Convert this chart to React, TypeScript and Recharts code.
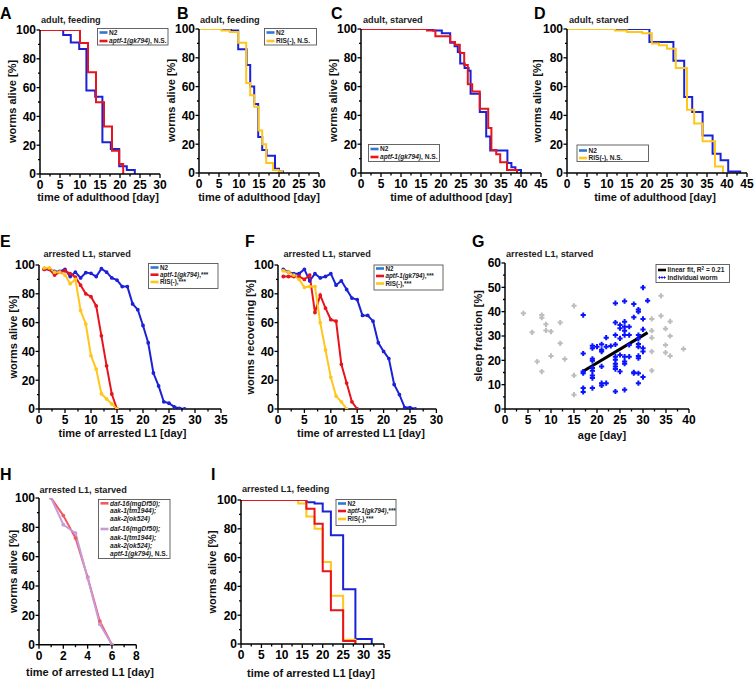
import React from 'react';
import { ComposedChart, Line, Scatter, XAxis, YAxis } from 'recharts';

type Pt = [number, number];

// ---- tick positions ----
const T100 = [0, 10, 20, 30, 40, 50, 60, 70, 80, 90, 100];
const T60 = [0, 5, 10, 15, 20, 25, 30, 35, 40, 45, 50, 55, 60];
const T30 = [0, 2.5, 5, 7.5, 10, 12.5, 15, 17.5, 20, 22.5, 25, 27.5, 30];
const T35 = [...T30, 32.5, 35];
const T40 = [...T35, 37.5, 40];
const T45 = [...T40, 42.5, 45];
const T8 = [0, 1, 2, 3, 4, 5, 6, 7, 8];

// ---- A: adult, feeding ----
const aN2: Pt[] = [[0, 100], [5.8, 96.5], [7.7, 91.4], [9.8, 86.8], [11.6, 57.9], [13.8, 53.7], [15.6, 22], [17.7, 17.4], [19.8, 5.3], [21.7, 2.8], [23.7, 0]];
const aAptf: Pt[] = [[0, 100], [10, 91], [12, 70.6], [14, 49.8], [16, 33], [18, 16.2], [19.8, 7], [20.8, 0]];

// ---- B: adult, feeding ----
const bN2: Pt[] = [[0, 100], [8, 99], [9.8, 86], [11.9, 75], [12.8, 60], [13.8, 48], [14.8, 25], [15.8, 16], [16.9, 12], [19, 3], [20, 1], [21, 0]];
const bRis: Pt[] = [[0, 100], [5.6, 99], [7.7, 98], [9.8, 90.5], [11.8, 62.5], [12.8, 54], [13.8, 46], [14.9, 29.6], [15.8, 20], [16.8, 7], [18.5, 2], [19.9, 1], [20.8, 0]];

// ---- C: adult, starved ----
const cN2: Pt[] = [[0, 100], [18, 99], [20.2, 97], [22.3, 90.5], [23.4, 88], [24.2, 84], [24.8, 76], [25.9, 73], [26.9, 71], [27.4, 55], [29.7, 42.3], [31.3, 25.4], [32.3, 15.7], [36.6, 6.9], [37.6, 4], [38.6, 2], [40, 0]];
const cAptf: Pt[] = [[0, 100], [16.5, 99], [18.6, 95], [22.3, 91], [23.5, 89], [24.7, 83.4], [25.8, 75], [26.7, 61.7], [27.8, 56.6], [29.7, 44.6], [31.8, 31.2], [32.6, 15.9], [33.8, 13], [34.8, 7.5], [36.5, 2], [39, 0]];

// ---- D: adult, starved ----
const dN2: Pt[] = [[0, 100], [20.6, 91], [26.6, 78], [29.3, 52.8], [31.3, 42.4], [33.9, 26], [36.4, 13.4], [38.4, 8.8], [40.3, 1], [43.3, 0]];
const dRis: Pt[] = [[0, 100], [12, 99], [15, 98], [18.8, 97], [21.2, 90], [23, 88.7], [25, 86.3], [27.2, 73], [30, 44], [31.8, 34.3], [33.9, 22], [37, 4.6], [39, 0]];

// ---- E: arrested L1, starved (survival) ----
const eN2: Pt[] = [[1, 97], [2, 97], [3, 95.5], [4, 95.5], [5, 97], [6, 92], [7, 95], [8, 91], [9, 94.7], [10, 94.2], [11, 92], [12, 97.5], [13, 95], [14, 91], [15, 89.5], [16, 85], [17, 85], [18, 73], [19, 69], [20, 58], [21, 46], [22, 25], [23, 16], [24, 5], [25, 4], [26, 1.5], [27, 0.5], [28, 0]];
const eAptf: Pt[] = [[1, 97], [2, 97], [3, 93], [4, 95], [5, 96], [6, 94], [7, 91.5], [8, 86], [9, 80], [10, 78], [11, 71.6], [12, 50.8], [13, 30], [14, 10.4], [15, 0]];
const eRis: Pt[] = [[1, 98], [2, 98], [3, 95], [4, 95], [5, 93], [6, 87], [7, 90], [8, 68.4], [9, 59], [10, 37], [11, 27.7], [12, 10.6], [13, 7], [14, 3.5], [15, 0]];

// ---- F: arrested L1, starved (recovery) ----
const fN2: Pt[] = [[1, 97], [2, 95], [3, 94], [4, 94], [5, 97], [6, 89], [7, 94], [8, 91], [9, 92], [10, 94], [11, 86], [12, 89], [13, 83], [14, 77], [15, 76], [16, 65], [17, 65], [18, 61], [19, 46], [20, 40], [21, 35], [22, 17], [23, 10], [24, 1], [25, 1], [26, 0]];
const fAptf: Pt[] = [[1, 92], [2, 92], [3, 92], [4, 92], [5, 90], [6, 93], [7, 67], [8, 79], [9, 70], [10, 62], [11, 61], [12, 31], [13, 18], [14, 5], [15, 0]];
const fRis: Pt[] = [[1, 96], [2, 95], [3, 93], [4, 90], [5, 84.5], [6, 85], [7, 85], [8, 60], [9, 41], [10, 22], [11, 9], [12, 5], [13, 0]];

// ---- G: sleep fraction vs age ----
const gGray: Pt[] = [[4, 39.3], [5.9, 31.5], [8, 38.6], [8, 37.5], [8.9, 34.8], [8.9, 32.3], [10, 31.8], [12, 35.5], [12, 27], [7, 19.5], [8, 15.4], [10, 21.8], [13, 20.5], [15, 42.4], [15, 13.8], [15, 5.9], [33.9, 46.5], [31.9, 37], [33.9, 38.3], [35.9, 36], [31.9, 32.2], [34.9, 33], [31.9, 29.3], [35.9, 30], [34.9, 26.3], [38.8, 24.7], [31.9, 23.6], [34.9, 23.2], [35.9, 21.8], [31.9, 15.8]];
const gWorms: Pt[] = [
  [17, 38.6], [17, 22.8], [17, 15.4], [17, 14.7], [17, 8.6], [17, 7],
  [19, 26], [19, 25], [19, 20.6], [19, 19.8], [19, 16.8], [19, 15.7], [19, 13.8], [19, 12.7], [19, 8.6],
  [20, 25.6],
  [21, 26.6], [21, 24.3], [21, 23.6], [21, 17.5], [21, 10.6], [21, 9.7],
  [22, 29.3], [22, 25.6], [22, 10.6],
  [23, 25.9],
  [24, 43.5], [24, 35.5], [24, 30.4], [24, 26.5], [24, 21.5], [24, 20.2], [24, 18.6], [24, 17.5], [24, 16.4], [24, 7.2],
  [25, 34.5], [25, 33.2], [25, 29], [25, 22.2], [25, 15.4],
  [26, 44.3], [26, 35.9], [26, 33.8], [26, 32.2], [26, 30.4], [26, 21.5], [26, 19.5], [26, 18.6], [26, 7.9],
  [27, 33.8], [27, 30.4], [27, 26.3], [27, 21.5],
  [28, 43.1], [28, 37.7], [28, 15.1], [28, 14.7],
  [29, 40.9], [29, 40], [29, 30.4], [29, 29], [29, 26.7], [29, 25.6], [29, 21.8], [29, 20.9], [29, 14.7], [29, 10.6],
  [30, 49.9], [30, 37], [30, 32.7], [30, 25], [30, 23.6], [30, 13.1],
  [31, 44.5],
];
const gFit: Pt[] = [[17, 15.5], [31, 31.4]];

// ---- H: arrested L1, starved (mutants) ----
const hTriple: Pt[] = [[1, 100], [2, 88], [3, 72.7], [4, 46], [5, 16], [6, 0]];
const hQuad: Pt[] = [[1, 100], [2, 81.8], [3, 76], [4, 45.5], [5, 14], [6, 0]];

// ---- I: arrested L1, feeding ----
const iN2: Pt[] = [[0, 100], [16, 98.5], [18, 97.5], [20, 92], [22, 75.5], [25, 38], [28, 3.5], [32, 0]];
const iAptf: Pt[] = [[0, 100], [16, 94], [18, 83.5], [20, 50.5], [22, 23.5], [25, 2], [28, 0]];
const iRis: Pt[] = [[0, 100], [14, 97.5], [16, 88.5], [18, 80], [20, 57], [22, 33.5], [25, 3], [28, 0]];

const BLUE = '#1b22d6';
const RED = '#e8141c';
const YELLOW = '#ffc61e';
const SWATCH_BLUE = '#2d78d2';
const DOT_BLUE = '#0a14ff';
const GRAY = '#bdbdbd';
const SALMON = '#ef5a62';
const LILAC = '#c89ad8';
const FONT = '"Liberation Sans", Arial, sans-serif';

const rows = (pts: Pt[]) => pts.map(([x, y]) => ({ x, y }));

const isMajor = (v: number, step: number) => Math.abs(v / step - Math.round(v / step)) < 1e-6;

const xTick = (step: number) => (p: any) => {
  const v = p.payload.value;
  const major = isMajor(v, step);
  return (
    <g>
      <line x1={p.x} x2={p.x} y1={p.y} y2={p.y + (major ? 4 : 2.5)} stroke="#000" strokeWidth={1.3} />
      {major && (
        <text x={p.x} y={p.y + 15} textAnchor="middle" fontSize={12} fontWeight="bold" fontFamily={FONT} fill="#000">
          {v}
        </text>
      )}
    </g>
  );
};

const yTick = (step: number) => (p: any) => {
  const v = p.payload.value;
  const major = isMajor(v, step);
  return (
    <g>
      <line x1={p.x - (major ? 3.5 : 2)} x2={p.x} y1={p.y} y2={p.y} stroke="#000" strokeWidth={1.3} />
      {major && (
        <text x={p.x - 4} y={p.y + 4.3} textAnchor="end" fontSize={12} fontWeight="bold" fontFamily={FONT} fill="#000">
          {v}
        </text>
      )}
    </g>
  );
};

const plus = (color: string) => (p: any) => (
  <path
    d={`M${p.cx - 2.6},${p.cy}H${p.cx + 2.6}M${p.cx},${p.cy - 2.6}V${p.cy + 2.6}`}
    stroke={color}
    strokeWidth={2}
  />
);

const PL = 40, PT = 8, PR = 10, PB = 26;

interface PanelProps {
  left: number; top: number; w: number; h: number;
  xMax: number; xTicks: number[]; xStep: number;
  yMax: number; yTicks: number[]; yStep: number;
  children: React.ReactNode;
}

function Panel({ left, top, w, h, xMax, xTicks, xStep, yMax, yTicks, yStep, children }: PanelProps) {
  return (
    <div style={{ position: 'absolute', left: left - PL, top: top - PT }}>
      <ComposedChart width={w + PL + PR} height={h + PT + PB} margin={{ top: PT, right: PR, bottom: 0, left: 0 }}>
        <XAxis type="number" dataKey="x" domain={[0, xMax]} ticks={xTicks} interval={0} allowDataOverflow
          tickSize={0} tickMargin={0} tickLine={false} tick={xTick(xStep)} height={PB}
          axisLine={{ stroke: '#000', strokeWidth: 1.5 }} />
        <YAxis type="number" dataKey="y" domain={[0, yMax]} ticks={yTicks} interval={0} allowDataOverflow
          tickSize={0} tickMargin={0} tickLine={false} tick={yTick(yStep)} width={PL}
          axisLine={{ stroke: '#000', strokeWidth: 1.5 }} />
        {children}
      </ComposedChart>
    </div>
  );
}

const step = (pts: Pt[], color: string, key: string) => (
  <Line key={key} data={rows(pts)} dataKey="y" type="stepAfter" stroke={color} strokeWidth={2}
    dot={false} isAnimationActive={false} />
);

const poly = (pts: Pt[], color: string, key: string) => (
  <Line key={key} data={rows(pts)} dataKey="y" type="linear" stroke={color} strokeWidth={2}
    dot={{ r: 0.9, fill: color, stroke: color }} isAnimationActive={false} />
);

const txt = { fontFamily: FONT, fontWeight: 'bold' as const };

function YTitle({ x, y, children }: { x: number; y: number; children: React.ReactNode }) {
  return (
    <text x={x} y={y} transform={`rotate(-90 ${x} ${y})`} textAnchor="middle" dominantBaseline="central"
      fontSize={11} fill="#111" {...txt}>{children}</text>
  );
}

function XTitle({ x, y, children }: { x: number; y: number; children: React.ReactNode }) {
  return <text x={x} y={y} textAnchor="middle" dominantBaseline="central" fontSize={11} fill="#111" {...txt}>{children}</text>;
}

function Sub({ x, y, children }: { x: number; y: number; children: React.ReactNode }) {
  return <text x={x} y={y} fontSize={9.2} fill="#222" {...txt}>{children}</text>;
}

function Letter({ x, y, children }: { x: number; y: number; children: React.ReactNode }) {
  return <text x={x} y={y} fontSize={16} fill="#000" {...txt}>{children}</text>;
}

interface LegRow { y: number; color?: string; plus?: boolean; label: React.ReactNode }

function LegendBox({ x, y, w, h, items, fs = 6.6 }: { x: number; y: number; w: number; h: number; items: LegRow[]; fs?: number }) {
  return (
    <g>
      <rect x={x} y={y} width={w} height={h} fill="#fff" stroke="#555" strokeWidth={0.9} />
      {items.map((r, i) => (
        <g key={i}>
          {r.color && !r.plus && <line x1={x + 2} x2={x + 10} y1={r.y} y2={r.y} stroke={r.color} strokeWidth={2.6} />}
          {r.plus && [x + 3.5, x + 6, x + 8.5].map((cx) => (
            <path key={cx} d={`M${cx - 1.2},${r.y}H${cx + 1.2}M${cx},${r.y - 1.2}V${r.y + 1.2}`} stroke={DOT_BLUE} strokeWidth={1} />
          ))}
          <text x={x + 11.5} y={r.y + fs * 0.36} fontSize={fs} fill="#222" {...txt}>{r.label}</text>
        </g>
      ))}
    </g>
  );
}

const aptf = <tspan fontStyle="italic">aptf-1(gk794)</tspan>;

export default function App() {
  return (
    <div style={{ position: 'absolute', left: 0, top: 0, width: 755, height: 684, background: '#fff', fontFamily: FONT }}>
      <Panel left={39.5} top={29.5} w={120} h={144} xMax={30} xTicks={T30} xStep={5} yMax={100} yTicks={T100} yStep={20}>
        {step(aN2, BLUE, 'n2')}
        {step(aAptf, RED, 'aptf')}
      </Panel>
      <Panel left={199} top={28.5} w={120} h={144} xMax={30} xTicks={T30} xStep={5} yMax={100} yTicks={T100} yStep={20}>
        {step(bN2, BLUE, 'n2')}
        {step(bRis, YELLOW, 'ris')}
      </Panel>
      <Panel left={361} top={28.5} w={180} h={144} xMax={45} xTicks={T45} xStep={5} yMax={100} yTicks={T100} yStep={20}>
        {step(cN2, BLUE, 'n2')}
        {step(cAptf, RED, 'aptf')}
      </Panel>
      <Panel left={567} top={29} w={180} h={144} xMax={45} xTicks={T45} xStep={5} yMax={100} yTicks={T100} yStep={20}>
        {step(dN2, BLUE, 'n2')}
        {step(dRis, YELLOW, 'ris')}
      </Panel>
      <Panel left={39.3} top={265} w={182} h={144} xMax={35} xTicks={T35} xStep={5} yMax={100} yTicks={T100} yStep={20}>
        {poly(eN2, BLUE, 'n2')}
        {poly(eAptf, RED, 'aptf')}
        {poly(eRis, YELLOW, 'ris')}
      </Panel>
      <Panel left={278.3} top={265} w={158.4} h={144} xMax={30} xTicks={T30} xStep={5} yMax={100} yTicks={T100} yStep={20}>
        {poly(fN2, BLUE, 'n2')}
        {poly(fAptf, RED, 'aptf')}
        {poly(fRis, YELLOW, 'ris')}
      </Panel>
      <Panel left={505} top={263} w={184} h={146} xMax={40} xTicks={T40} xStep={5} yMax={60} yTicks={T60} yStep={10}>
        <Scatter data={rows(gGray)} dataKey="y" shape={plus(GRAY)} isAnimationActive={false} />
        <Scatter data={rows(gWorms)} dataKey="y" shape={plus(DOT_BLUE)} isAnimationActive={false} />
        <Line data={rows(gFit)} dataKey="y" type="linear" stroke="#000" strokeWidth={3} dot={false} isAnimationActive={false} />
      </Panel>
      <Panel left={38.7} top={498.3} w={97.3} h={146.7} xMax={8} xTicks={T8} xStep={2} yMax={100} yTicks={T100} yStep={20}>
        {poly(hTriple, SALMON, 'tri')}
        {poly(hQuad, LILAC, 'quad')}
      </Panel>
      <Panel left={241.3} top={500} w={143} h={144} xMax={35} xTicks={T35} xStep={5} yMax={100} yTicks={T100} yStep={20}>
        {step(iN2, BLUE, 'n2')}
        {step(iRis, YELLOW, 'ris')}
        {step(iAptf, RED, 'aptf')}
      </Panel>

      <svg width={755} height={684} style={{ position: 'absolute', left: 0, top: 0, pointerEvents: 'none' }}>
        <Letter x={0} y={19}>A</Letter>
        <Letter x={177} y={19}>B</Letter>
        <Letter x={331} y={19}>C</Letter>
        <Letter x={534} y={19}>D</Letter>
        <Letter x={0} y={247}>E</Letter>
        <Letter x={245} y={247}>F</Letter>
        <Letter x={472} y={247}>G</Letter>
        <Letter x={0} y={480}>H</Letter>
        <Letter x={211} y={480}>I</Letter>

        <Sub x={41} y={22.5}>adult, feeding</Sub>
        <Sub x={200} y={22.5}>adult, feeding</Sub>
        <Sub x={363} y={22.5}>adult, starved</Sub>
        <Sub x={569} y={22.5}>adult, starved</Sub>
        <Sub x={43.5} y={256.5}>arrested L1, starved</Sub>
        <Sub x={283.5} y={256.5}>arrested L1, starved</Sub>
        <Sub x={506} y={257}>arrested L1, starved</Sub>
        <Sub x={39.5} y={492.5}>arrested L1, starved</Sub>
        <Sub x={242} y={491.5}>arrested L1, feeding</Sub>

        <YTitle x={12} y={101.5}>worms alive [%]</YTitle>
        <YTitle x={171} y={100.5}>worms alive [%]</YTitle>
        <YTitle x={333} y={100.5}>worms alive [%]</YTitle>
        <YTitle x={537} y={101}>worms alive [%]</YTitle>
        <YTitle x={13} y={337}>worms alive [%]</YTitle>
        <YTitle x={250} y={337}>worms recovering [%]</YTitle>
        <YTitle x={478} y={336}>sleep fraction [%]</YTitle>
        <YTitle x={12.5} y={571.5}>worms alive [%]</YTitle>
        <YTitle x={212} y={572}>worms alive [%]</YTitle>

        <XTitle x={98} y={197}>time of adulthood [day]</XTitle>
        <XTitle x={259} y={197}>time of adulthood [day]</XTitle>
        <XTitle x={451} y={197}>time of adulthood [day]</XTitle>
        <XTitle x={655} y={197}>time of adulthood [day]</XTitle>
        <XTitle x={122.5} y={433}>time of arrested L1 [day]</XTitle>
        <XTitle x={361} y={433}>time of arrested L1 [day]</XTitle>
        <XTitle x={602} y={435}>age [day]</XTitle>
        <XTitle x={90} y={672}>time of arrested L1 [day]</XTitle>
        <XTitle x={311} y={672.5}>time of arrested L1 [day]</XTitle>

        <LegendBox x={97.5} y={28.5} w={70.5} h={16.5} items={[
          { y: 32.5, color: SWATCH_BLUE, label: 'N2' },
          { y: 41, color: RED, label: <>{aptf}, N.S.</> },
        ]} />
        <LegendBox x={264.5} y={28.5} w={52} h={16.5} items={[
          { y: 32.5, color: SWATCH_BLUE, label: 'N2' },
          { y: 41, color: YELLOW, label: 'RIS(-), N.S.' },
        ]} />
        <LegendBox x={368.5} y={144.5} w={71} h={17} items={[
          { y: 149, color: SWATCH_BLUE, label: 'N2' },
          { y: 157, color: RED, label: <>{aptf}, N.S.</> },
        ]} />
        <LegendBox x={577} y={145} w={71.5} h={16.5} items={[
          { y: 150.5, color: SWATCH_BLUE, label: 'N2' },
          { y: 158, color: YELLOW, label: 'RIS(-), N.S.' },
        ]} />
        <LegendBox x={148.5} y={263.5} w={69.5} h={25} fs={6.3} items={[
          { y: 267.5, color: SWATCH_BLUE, label: 'N2' },
          { y: 274.7, color: RED, label: <>{aptf},***</> },
          { y: 282, color: YELLOW, label: 'RIS(-),***' },
        ]} />
        <LegendBox x={374} y={265} w={69} h={25} fs={6.3} items={[
          { y: 268.5, color: SWATCH_BLUE, label: 'N2' },
          { y: 276, color: RED, label: <>{aptf},***</> },
          { y: 283.5, color: YELLOW, label: 'RIS(-),***' },
        ]} />
        <LegendBox x={656} y={264.5} w={73.5} h={18} items={[
          { y: 270, color: '#000', label: <>linear fit, R<tspan fontSize={4.5} dy={-2.5}>2</tspan><tspan dy={2.5}> = 0.21</tspan></> },
          { y: 277.5, plus: true, label: 'individual worm' },
        ]} />
        <LegendBox x={98.5} y={499.5} w={71.5} h={59} items={[
          { y: 503.3, color: SALMON, label: <tspan fontStyle="italic">daf-16(mgDf50);</tspan> },
          { y: 511, label: <tspan fontStyle="italic">aak-1(tm1944);</tspan> },
          { y: 519, label: <tspan fontStyle="italic">aak-2(ok524)</tspan> },
          { y: 529, color: LILAC, label: <tspan fontStyle="italic">daf-16(mgDf50);</tspan> },
          { y: 537.3, label: <tspan fontStyle="italic">aak-1(tm1944);</tspan> },
          { y: 545.7, label: <tspan fontStyle="italic">aak-2(ok524);</tspan> },
          { y: 553.5, label: <>{aptf}, N.S.</> },
        ]} />
        <LegendBox x={336} y={499.5} w={60} h={26} fs={6.3} items={[
          { y: 503.5, color: SWATCH_BLUE, label: 'N2' },
          { y: 511, color: RED, label: <>{aptf},***</> },
          { y: 519, color: YELLOW, label: 'RIS(-),***' },
        ]} />
      </svg>
    </div>
  );
}
